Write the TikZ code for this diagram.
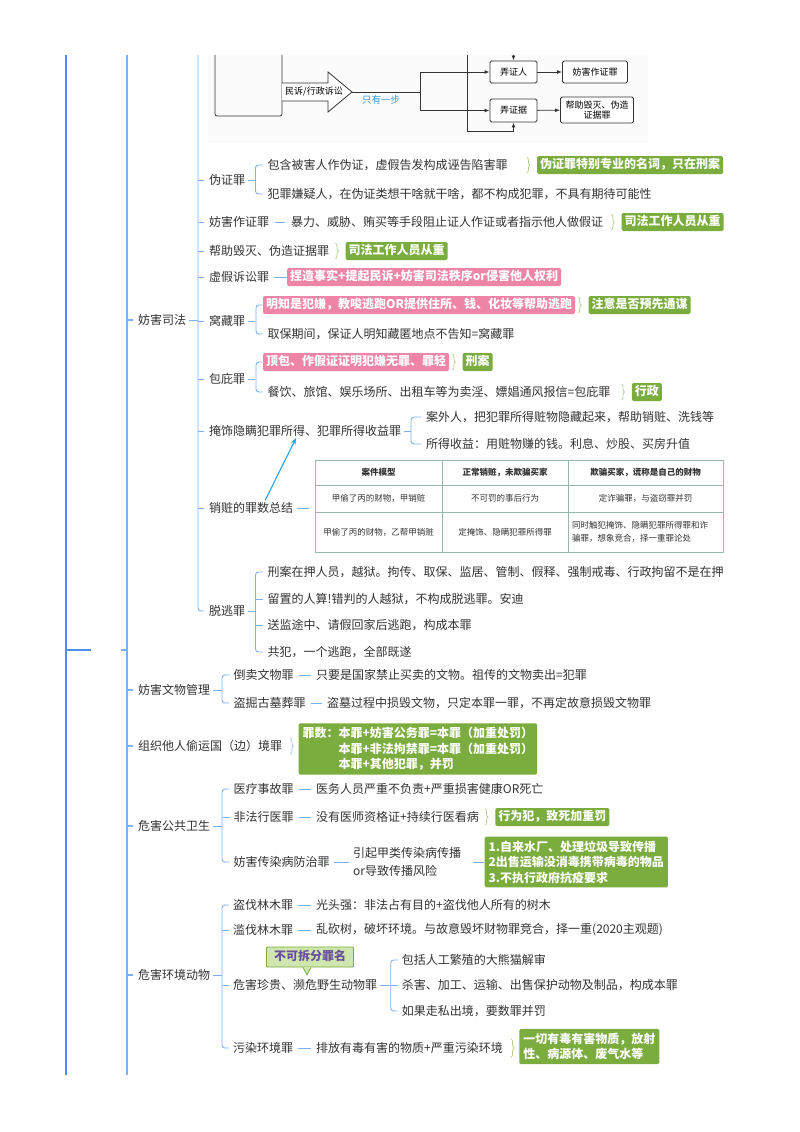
\documentclass[tikz,border=0pt]{standalone}
\usepackage{fontspec}
\setmainfont{Noto Sans CJK SC}
\usetikzlibrary{arrows.meta,positioning,decorations.pathreplacing}

\definecolor{rootblue}{HTML}{4A8FEA}
\definecolor{linkblue}{HTML}{7DB0F2}
\definecolor{taggreen}{HTML}{7BAD3E}
\definecolor{tagpink}{HTML}{EE85A7}
\definecolor{inkgray}{HTML}{333333}
\definecolor{bracegreen}{HTML}{B3CC8C}
\definecolor{gridteal}{HTML}{95B9AC}
\definecolor{arrowcyan}{HTML}{26A6E4}
\definecolor{notegreen}{HTML}{CFE6AE}
\definecolor{notepurple}{HTML}{6A4E9E}
\definecolor{stepblue}{HTML}{3A9AD9}

\tikzset{
	leaf/.style={anchor=west,inner sep=0pt,text=inkgray,font=\fontsize{12}{14.5}\selectfont},
	gtag/.style={anchor=west,fill=taggreen,text=white,rounded corners=1.5pt,inner xsep=3pt,inner ysep=3pt,text height=9.5pt,text depth=2.5pt,font=\bfseries\fontsize{12}{14.5}\selectfont},
	ptag/.style={gtag,fill=tagpink},
	gbox/.style={anchor=west,fill=taggreen,text=white,rounded corners=1.5pt,inner xsep=4pt,inner ysep=4pt,align=left,font=\bfseries\fontsize{12}{15.5}\selectfont},
	link/.style={linkblue,line width=0.9pt,rounded corners=3pt},
	sumbrace/.style={bracegreen,line width=0.7pt,decorate,decoration={brace,amplitude=3pt}},
	flowbox/.style={draw=black!80,line width=0.8pt,rounded corners=1.5pt,fill=white,align=center,inner sep=1pt,font=\fontsize{9}{10.5}\selectfont},
	flowline/.style={black!80,line width=0.8pt},
	cell/.style={inner sep=0pt,text=black!80,font=\fontsize{8.5}{13}\selectfont},
}

\begin{document}
\begin{tikzpicture}[x=1pt,y=-1pt]
		\useasboundingbox (0,0) rectangle (800,1132);
		\fill[white] (0,0) rectangle (800,1132);

		% trunk
		\draw[rootblue,line width=2pt] (66,55) -- (66,1075);
		\draw[rootblue,line width=2pt] (66,650) -- (91,650);
		\draw[linkblue,line width=1.6pt] (127,55) -- (127,1075);
		\draw[linkblue,line width=1.6pt] (121,650) -- (127,650);

		% screenshot of the flow chart
		\fill[black!1.5] (208,55) rectangle (648,143);
		\draw[flowline,rounded corners=2pt] (215,55) -- (215,116) -- (282,116) -- (282,55);
		\draw[flowline,fill=white] (282,83) -- (328,83) -- (328,72) -- (352,92) -- (328,112) -- (328,101) -- (282,101);
		\node[inner sep=0pt,font=\fontsize{9}{10}\selectfont] (mszs) at (314,92) {民诉/行政诉讼};
		\coordinate (tip) at (352,92);
		\coordinate (fork) at (420,92);
		\draw[flowline] (tip) -- (fork);
		\node[inner sep=0pt,text=stepblue,font=\fontsize{9.5}{11}\selectfont] (zyyb) at (381,100) {只有一步};
		\node[flowbox,minimum width=47pt,minimum height=22pt] (nzr) at (513.5,72) {弄证人};
		\node[flowbox,minimum width=47pt,minimum height=23pt] (nzj) at (513.5,110.5) {弄证据};
		\node[flowbox,minimum width=65pt,minimum height=22pt] (fhzzb) at (595,72) {妨害作证罪};
		\node[flowbox,minimum width=73pt,minimum height=26pt] (bzhmb) at (597,110) {帮助毁灭、伪造\\证据罪};
		\draw[flowline] (420,72) -- (420,110.5);
		\draw[flowline,-{Latex[length=5pt]}] (420,72) -- (nzr.west);
		\draw[flowline,-{Latex[length=5pt]}] (420,110.5) -- (nzj.west);
		\draw[flowline,-{Latex[length=5pt]}] (467,55) |- (513.5,131) -- (nzj.south);
		\draw[flowline,-{Latex[length=5pt]}] (513.5,55) -- (nzr.north);
		\draw[flowline,-{Latex[length=5pt]}] (nzr) -- (fhzzb);
		\draw[flowline,-{Latex[length=5pt]}] (nzj) -- (bzhmb);

		% first level
		\node[leaf] (fzsf) at (138,320) {妨害司法};
		\node[leaf] (fzww) at (138,690) {妨害文物管理};
		\node[leaf] (zzts) at (138,746) {组织他人偷运国（边）境罪};
		\node[leaf] (whgw) at (138,826) {危害公共卫生};
		\node[leaf] (whhj) at (138,975) {危害环境动物};
		\foreach \n in {fzsf,fzww,zzts,whgw,whhj}
			\draw[linkblue,line width=1.2pt] ([xshift=-5]\n.west) -- ([xshift=-11]\n.west);

		% 妨害司法
		\draw[link] ([xshift=3]fzsf.east) -- ++(9,0);
		\node[leaf] (wz) at (209,180) {伪证罪};
		\node[leaf] (wzA) at (267.5,165) {包含被害人作伪证，虚假告发构成诬告陷害罪};
		\node[leaf] (wzB) at (267.5,194) {犯罪嫌疑人，在伪证类想干啥就干啥，都不构成犯罪，不具有期待可能性};
		\node[gtag,right=29pt of wzA] (wzT) {伪证罪特别专业的名词，只在刑案};
		\node[leaf] (fhzz) at (209,222) {妨害作证罪};
		\node[leaf] (fhzzA) at (291,222) {暴力、威胁、贿买等手段阻止证人作证或者指示他人做假证};
		\node[gtag,right=18pt of fhzzA] (fhzzT) {司法工作人员从重};
		\node[leaf] (bzhm) at (209,251) {帮助毁灭、伪造证据罪};
		\node[gtag,right=16pt of bzhm] (bzhmT) {司法工作人员从重};
		\node[leaf] (xjss) at (209,277) {虚假诉讼罪};
		\node[ptag] (xjssA) at (287,277) {捏造事实+提起民诉+妨害司法秩序or侵害他人权利};
		\node[leaf] (wc) at (209,321) {窝藏罪};
		\node[ptag] (wcA) at (263,305) {明知是犯嫌，教唆逃跑OR提供住所、钱、化妆等帮助逃跑};
		\node[gtag,right=13pt of wcA] (wcT) {注意是否预先通谋};
		\node[leaf] (wcB) at (267.5,334) {取保期间，保证人明知藏匿地点不告知=窝藏罪};
		\node[leaf] (bb) at (209,379) {包庇罪};
		\node[ptag] (bbA) at (263,362) {顶包、作假证证明犯嫌无罪、罪轻};
		\node[gtag,right=13pt of bbA] (bbT) {刑案};
		\node[leaf] (bbB) at (267.5,392) {餐饮、旅馆、娱乐场所、出租车等为卖淫、嫖娼通风报信=包庇罪};
		\node[gtag,right=21pt of bbB] (bbT2) {行政};
		\node[leaf] (ys) at (209,431) {掩饰隐瞒犯罪所得、犯罪所得收益罪};
		\node[leaf] (ysA) at (426,417) {案外人，把犯罪所得赃物隐藏起来，帮助销赃、洗钱等};
		\node[leaf] (ysB) at (426,444) {所得收益：用赃物赚的钱。利息、炒股、买房升值};
		\node[leaf] (xz) at (209,508) {销赃的罪数总结};
		\node[leaf] (tt) at (209,611) {脱逃罪};
		\node[leaf] (ttA) at (267.5,572) {刑案在押人员，越狱。拘传、取保、监居、管制、假释、强制戒毒、行政拘留不是在押};
		\node[leaf] (ttB) at (267.5,599) {留置的人算!错判的人越狱，不构成脱逃罪。安迪};
		\node[leaf] (ttC) at (267.5,625) {送监途中、请假回家后逃跑，构成本罪};
		\node[leaf] (ttD) at (267.5,652) {共犯，一个逃跑，全部既遂};

		\draw[link] (198,55) |- ([xshift=-5]tt.west);
		\foreach \n in {wz,fhzz,bzhm,xjss,wc,bb,ys,xz}
			\draw[link] ([xshift=-5]\n.west) -- ([xshift=-11]\n.west);
		\draw[link] ([xshift=3]wz.east) -- ++(7,0);
		\draw[link] ([xshift=-5]wzA.west) -- ++(-7,0) |- ([xshift=-5]wzB.west);
		\draw[link] ([xshift=6]fhzz.east) -- ([xshift=-6]fhzzA.west);
		\draw[link] ([xshift=5]xjss.east) -- (xjssA.west);
		\draw[link] ([xshift=3]wc.east) -- ++(7,0);
		\draw[link] ([xshift=-1]wcA.west) -- ++(-6,0) |- ([xshift=-5]wcB.west);
		\draw[link] ([xshift=3]bb.east) -- ++(7,0);
		\draw[link] ([xshift=-1]bbA.west) -- ++(-6,0) |- ([xshift=-5]bbB.west);
		\draw[link] ([xshift=3]ys.east) -- ++(7,0);
		\draw[link] ([xshift=-5]ysA.west) -- ++(-10,0) |- ([xshift=-5]ysB.west);
		\draw[link] ([xshift=4]xz.east) -- ++(12,0);
		\draw[link] ([xshift=3]tt.east) -- ++(7,0);
		\draw[link] ([xshift=-5]ttA.west) -- ++(-7,0) |- ([xshift=-5]ttD.west);
		\foreach \n in {ttB,ttC}
			\draw[link] ([xshift=-5]\n.west) -- ++(-7,0);
		\foreach \t in {wzT,fhzzT,bzhmT,wcT,bbT,bbT2}
			\draw[sumbrace] ([xshift=-10,yshift=8]\t.west) -- ([xshift=-10,yshift=-8]\t.west);

		% table
		\fill[white] (315,460) rectangle (723,552);
		\draw[gridteal,line width=0.7pt] (315,460) rectangle (723,552);
		\foreach \y in {485,512}
			\draw[gridteal,line width=0.6pt] (315,\y) -- (723,\y);
		\foreach \x in {442,568}
			\draw[gridteal,line width=0.6pt] (\x,460) -- (\x,552);
		\node[cell,font=\bfseries\fontsize{8.5}{13}\selectfont] (th1) at (378.5,472.5) {案件模型};
		\node[cell,font=\bfseries\fontsize{8.5}{13}\selectfont] (th2) at (505,472.5) {正常销赃，未欺骗买家};
		\node[cell,font=\bfseries\fontsize{8.5}{13}\selectfont] (th3) at (645.5,472.5) {欺骗买家，谎称是自己的财物};
		\node[cell] (ta1) at (378.5,498.5) {甲偷了丙的财物，甲销赃};
		\node[cell] (ta2) at (505,498.5) {不可罚的事后行为};
		\node[cell] (ta3) at (645.5,498.5) {定诈骗罪，与盗窃罪并罚};
		\node[cell] (tb1) at (378.5,532) {甲偷了丙的财物，乙帮甲销赃};
		\node[cell] (tb2) at (505,532) {定掩饰、隐瞒犯罪所得罪};
		\node[cell,anchor=west,align=left] (tb3) at (572,532) {同时触犯掩饰、隐瞒犯罪所得罪和诈\\骗罪，想象竞合，择一重罪论处};
		\draw[arrowcyan,line width=1.1pt,-{Stealth[length=7pt,width=5pt]}] ([xshift=14,yshift=2]xz.north) -- ([xshift=-9,yshift=-1]ys.south);

		% 妨害文物管理
		\node[leaf] (dw) at (233.5,675) {倒卖文物罪};
		\node[leaf] (dwA) at (316,675) {只要是国家禁止买卖的文物。祖传的文物卖出=犯罪};
		\node[leaf] (dj) at (233.5,703) {盗掘古墓葬罪};
		\node[leaf] (djA) at (327,703) {盗墓过程中损毁文物，只定本罪一罪，不再定故意损毁文物罪};
		\draw[link] ([xshift=3]fzww.east) -- ++(9,0);
		\draw[link] ([xshift=-4]dw.west) -- ++(-7.5,0) |- ([xshift=-4]dj.west);
		\draw[link] ([xshift=5]dw.east) -- ([xshift=-5]dwA.west);
		\draw[link] ([xshift=5]dj.east) -- ([xshift=-5]djA.west);

		% 组织他人偷运国（边）境罪
		\node[gbox,right=16pt of zzts,yshift=-3pt] (zztsT) {罪数：本罪+妨害公务罪=本罪（加重处罚）\\\phantom{罪数：}本罪+非法拘禁罪=本罪（加重处罚）\\\phantom{罪数：}本罪+其他犯罪，并罚};
		\draw[sumbrace,linkblue!70] ([xshift=8,yshift=8]zzts.east) -- ([xshift=8,yshift=-8]zzts.east);

		% 危害公共卫生
		\node[leaf] (ylsg) at (233.5,789) {医疗事故罪};
		\node[leaf] (ylsgA) at (316,789) {医务人员严重不负责+严重损害健康OR死亡};
		\node[leaf] (ffxy) at (233.5,817) {非法行医罪};
		\node[leaf] (ffxyA) at (316,817) {没有医师资格证+持续行医看病};
		\node[gtag,right=16pt of ffxyA] (ffxyT) {行为犯，致死加重罚};
		\node[leaf] (fhcr) at (233.5,862) {妨害传染病防治罪};
		\node[leaf,align=left,font=\fontsize{12}{18}\selectfont] (fhcrA) at (353,862) {引起甲类传染病传播\\or导致传播风险};
		\node[gbox,right=23pt of fhcrA] (fhcrT) {1.自来水厂、处理垃圾导致传播\\2出售运输没消毒携带病毒的物品\\3.不执行政府抗疫要求};
		\draw[link] ([xshift=3]whgw.east) -- ++(9,0);
		\draw[link] ([xshift=-4]ylsg.west) -- ++(-7.5,0) |- ([xshift=-4]fhcr.west);
		\draw[link] ([xshift=-4]ffxy.west) -- ++(-7.5,0);
		\draw[link] ([xshift=5]ylsg.east) -- ([xshift=-5]ylsgA.west);
		\draw[link] ([xshift=5]ffxy.east) -- ([xshift=-5]ffxyA.west);
		\draw[link] ([xshift=4]fhcr.east) -- ([xshift=-4]fhcrA.west);
		\draw[link] ([xshift=12]fhcrA.east) -- (fhcrT.west);
		\draw[sumbrace] ([xshift=-10,yshift=8]ffxyT.west) -- ([xshift=-10,yshift=-8]ffxyT.west);

		% 危害环境动物
		\node[leaf] (dflm) at (233,905) {盗伐林木罪};
		\node[leaf] (dflmA) at (316,905) {光头强：非法占有目的+盗伐他人所有的树木};
		\node[leaf] (lflm) at (233,930) {滥伐林木罪};
		\node[leaf] (lflmA) at (316,930) {乱砍树，破坏环境。与故意毁坏财物罪竞合，择一重(2020主观题)};
		\node[leaf] (whzg) at (233,985) {危害珍贵、濒危野生动物罪};
		\node[leaf] (whzgA) at (401.7,960) {包括人工繁殖的大熊猫解审};
		\node[leaf] (whzgB) at (401.7,985) {杀害、加工、运输、出售保护动物及制品，构成本罪};
		\node[leaf] (whzgC) at (401.7,1011) {如果走私出境，要数罪并罚};
		\node[leaf] (wrhj) at (233,1048) {污染环境罪};
		\node[leaf] (wrhjA) at (316,1048) {排放有毒有害的物质+严重污染环境};
		\node[gbox,right=16pt of wrhjA,yshift=1.5pt] (wrhjT) {一切有毒有害物质，放射\\性、病源体、废气水等};
		\draw[link] ([xshift=3]whhj.east) -- ++(9,0);
		\draw[link] ([xshift=-4]dflm.west) -- ++(-7,0) |- ([xshift=-4]wrhj.west);
		\foreach \n in {lflm,whzg}
			\draw[link] ([xshift=-4]\n.west) -- ++(-7,0);
		\foreach \n in {dflm,lflm,wrhj}
			\draw[link] ([xshift=5]\n.east) -- ([xshift=-5]\n A.west);
		\draw[link] ([xshift=3]whzg.east) -- ++(10,0);
		\draw[link] ([xshift=-4]whzgA.west) -- ++(-7,0) |- ([xshift=-4]whzgC.west);
		\draw[link] ([xshift=-4]whzgB.west) -- ++(-7,0);
		\draw[sumbrace] ([xshift=8,yshift=9]wrhjA.east) -- ([xshift=8,yshift=-9]wrhjA.east);

		% callout
		\node[fill=notegreen,draw=taggreen,line width=0.8pt,rounded corners=1pt,text=notepurple,font=\bfseries\fontsize{12}{14}\selectfont,inner xsep=7.5pt,inner ysep=4pt,text height=9.5pt,text depth=2.5pt] (bkcf) at (310,957) {不可拆分罪名};
		\draw[taggreen,line width=0.8pt,fill=notegreen] ([xshift=-7]bkcf.south) -- ([xshift=-3,yshift=-7.5]bkcf.south) -- ([xshift=1]bkcf.south);
		\fill[notegreen] ([xshift=-6.2,yshift=0.7]bkcf.south) rectangle ([xshift=0.2,yshift=-0.7]bkcf.south);

\end{tikzpicture}
\end{document}
